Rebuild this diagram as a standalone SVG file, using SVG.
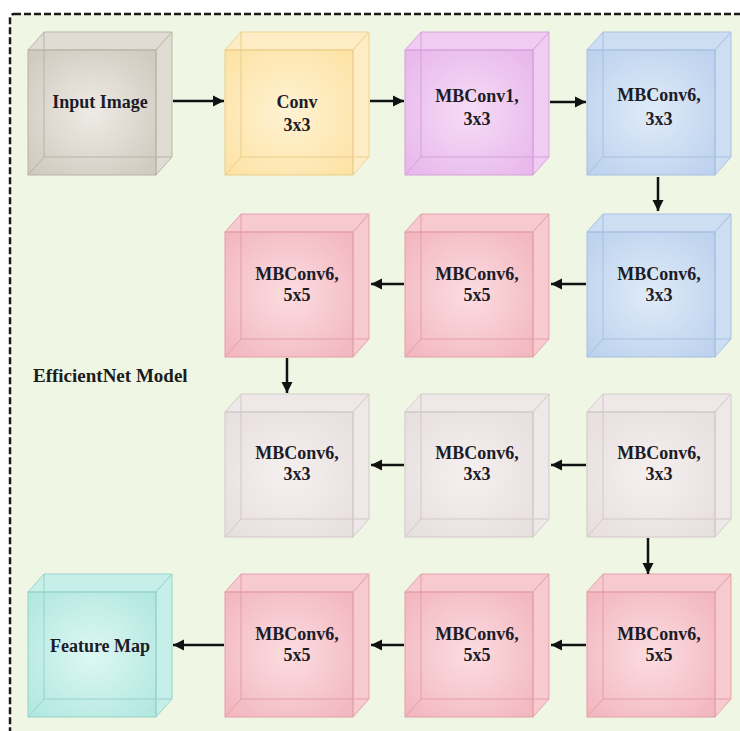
<svg xmlns="http://www.w3.org/2000/svg" width="740" height="731" viewBox="0 0 740 731">
<defs>
<radialGradient id="gGray" cx="0.5" cy="0.5" r="0.65"><stop offset="0" stop-color="#eeebe5"/><stop offset="1" stop-color="#d0cabf"/></radialGradient>
<radialGradient id="gYellow" cx="0.5" cy="0.5" r="0.65"><stop offset="0" stop-color="#fff2d3"/><stop offset="1" stop-color="#fde3a6"/></radialGradient>
<radialGradient id="gViolet" cx="0.5" cy="0.5" r="0.65"><stop offset="0" stop-color="#f6dcf6"/><stop offset="1" stop-color="#e8b8ec"/></radialGradient>
<radialGradient id="gBlue" cx="0.5" cy="0.5" r="0.65"><stop offset="0" stop-color="#dfebf8"/><stop offset="1" stop-color="#bdd2ee"/></radialGradient>
<radialGradient id="gPink" cx="0.5" cy="0.5" r="0.65"><stop offset="0" stop-color="#fbdde1"/><stop offset="1" stop-color="#f3b7c0"/></radialGradient>
<radialGradient id="gPale" cx="0.5" cy="0.5" r="0.65"><stop offset="0" stop-color="#f5f0f0"/><stop offset="1" stop-color="#e8dfdf"/></radialGradient>
<radialGradient id="gCyan" cx="0.5" cy="0.5" r="0.65"><stop offset="0" stop-color="#ddf7f3"/><stop offset="1" stop-color="#b2e8e0"/></radialGradient>
<marker id="arr" markerUnits="userSpaceOnUse" markerWidth="12" markerHeight="12" refX="11" refY="6" orient="auto"><path d="M0,0.5 L11,6 L0,11.5 z" fill="#111"/></marker>
</defs>
<style>
.bg{fill:#eff6e3;stroke:#1a1a1a;stroke-width:2.5;stroke-dasharray:7 3}
.side{stroke-width:1}
.edge{fill:none;stroke-width:1}
.gray .front{fill:url(#gGray)} .gray .side{fill:#e0dbd3;stroke:#bdb6aa} .gray .edge{stroke:#b9b1a5}
.yellow .front{fill:url(#gYellow)} .yellow .side{fill:#feedc4;stroke:#efd391} .yellow .edge{stroke:#ebcd8a}
.violet .front{fill:url(#gViolet)} .violet .side{fill:#f0cbf2;stroke:#d9a4dd} .violet .edge{stroke:#d5a0da}
.blue .front{fill:url(#gBlue)} .blue .side{fill:#cddef3;stroke:#a9c1e2} .blue .edge{stroke:#a6bfe1}
.pink .front{fill:url(#gPink)} .pink .side{fill:#f7cad0;stroke:#e6a2ad} .pink .edge{stroke:#e39ea9}
.pale .front{fill:url(#gPale)} .pale .side{fill:#efe8e8;stroke:#d5caca} .pale .edge{stroke:#d2c7c7}
.cyan .front{fill:url(#gCyan)} .cyan .side{fill:#c7efe9;stroke:#98d5cc} .cyan .edge{stroke:#95d2c9}
.lbl{font-family:"Liberation Serif","Times New Roman",serif;font-weight:bold;font-size:18px;fill:#1c1c28;text-anchor:middle}
.title{font-family:"Liberation Serif","Times New Roman",serif;font-weight:bold;font-size:19px;fill:#1c1c1c}
.conn line{stroke:#111;stroke-width:2.5;marker-end:url(#arr)}
</style>
<rect class="bg" x="10" y="14" width="745" height="730" rx="4"/>
<text class="title" x="33" y="382">EfficientNet Model</text>

<g id="input-image" class="gray" transform="translate(28,50)">
<rect class="front" x="0" y="0" width="128" height="125"/>
<polygon class="side" points="0,0 16,-18 144,-18 128,0"/><polygon class="side" points="128,0 144,-18 144,107 128,125"/>
<polyline class="edge" points="16,-18 16,107 144,107"/><line class="edge" x1="0" y1="125" x2="16" y2="107"/>
<rect class="edge" x="0" y="0" width="128" height="125"/>
<text class="lbl" x="72" y="58">Input Image</text></g>

<g id="conv3x3" class="yellow" transform="translate(225,50)">
<rect class="front" x="0" y="0" width="128" height="125"/>
<polygon class="side" points="0,0 16,-18 144,-18 128,0"/><polygon class="side" points="128,0 144,-18 144,107 128,125"/>
<polyline class="edge" points="16,-18 16,107 144,107"/><line class="edge" x1="0" y1="125" x2="16" y2="107"/>
<rect class="edge" x="0" y="0" width="128" height="125"/>
<text class="lbl" x="72" y="58">Conv</text><text class="lbl" x="72" y="81">3x3</text></g>

<g id="mbconv1-3x3" class="violet" transform="translate(405,50)">
<rect class="front" x="0" y="0" width="128" height="125"/>
<polygon class="side" points="0,0 16,-18 144,-18 128,0"/><polygon class="side" points="128,0 144,-18 144,107 128,125"/>
<polyline class="edge" points="16,-18 16,107 144,107"/><line class="edge" x1="0" y1="125" x2="16" y2="107"/>
<rect class="edge" x="0" y="0" width="128" height="125"/>
<text class="lbl" x="72" y="52">MBConv1,</text><text class="lbl" x="72" y="75">3x3</text></g>

<g id="mbconv6-3x3-a" class="blue" transform="translate(587,50)">
<rect class="front" x="0" y="0" width="128" height="125"/>
<polygon class="side" points="0,0 16,-18 144,-18 128,0"/><polygon class="side" points="128,0 144,-18 144,107 128,125"/>
<polyline class="edge" points="16,-18 16,107 144,107"/><line class="edge" x1="0" y1="125" x2="16" y2="107"/>
<rect class="edge" x="0" y="0" width="128" height="125"/>
<text class="lbl" x="72" y="51">MBConv6,</text><text class="lbl" x="72" y="75">3x3</text></g>

<g id="mbconv6-3x3-b" class="blue" transform="translate(587,232)">
<rect class="front" x="0" y="0" width="128" height="125"/>
<polygon class="side" points="0,0 16,-18 144,-18 128,0"/><polygon class="side" points="128,0 144,-18 144,107 128,125"/>
<polyline class="edge" points="16,-18 16,107 144,107"/><line class="edge" x1="0" y1="125" x2="16" y2="107"/>
<rect class="edge" x="0" y="0" width="128" height="125"/>
<text class="lbl" x="72" y="48">MBConv6,</text><text class="lbl" x="72" y="69">3x3</text></g>

<g id="mbconv6-5x5-a" class="pink" transform="translate(405,232)">
<rect class="front" x="0" y="0" width="128" height="125"/>
<polygon class="side" points="0,0 16,-18 144,-18 128,0"/><polygon class="side" points="128,0 144,-18 144,107 128,125"/>
<polyline class="edge" points="16,-18 16,107 144,107"/><line class="edge" x1="0" y1="125" x2="16" y2="107"/>
<rect class="edge" x="0" y="0" width="128" height="125"/>
<text class="lbl" x="72" y="48">MBConv6,</text><text class="lbl" x="72" y="69">5x5</text></g>

<g id="mbconv6-5x5-b" class="pink" transform="translate(225,232)">
<rect class="front" x="0" y="0" width="128" height="125"/>
<polygon class="side" points="0,0 16,-18 144,-18 128,0"/><polygon class="side" points="128,0 144,-18 144,107 128,125"/>
<polyline class="edge" points="16,-18 16,107 144,107"/><line class="edge" x1="0" y1="125" x2="16" y2="107"/>
<rect class="edge" x="0" y="0" width="128" height="125"/>
<text class="lbl" x="72" y="48">MBConv6,</text><text class="lbl" x="72" y="69">5x5</text></g>

<g id="mbconv6-3x3-c" class="pale" transform="translate(225,412)">
<rect class="front" x="0" y="0" width="128" height="125"/>
<polygon class="side" points="0,0 16,-18 144,-18 128,0"/><polygon class="side" points="128,0 144,-18 144,107 128,125"/>
<polyline class="edge" points="16,-18 16,107 144,107"/><line class="edge" x1="0" y1="125" x2="16" y2="107"/>
<rect class="edge" x="0" y="0" width="128" height="125"/>
<text class="lbl" x="72" y="47">MBConv6,</text><text class="lbl" x="72" y="68">3x3</text></g>

<g id="mbconv6-3x3-d" class="pale" transform="translate(405,412)">
<rect class="front" x="0" y="0" width="128" height="125"/>
<polygon class="side" points="0,0 16,-18 144,-18 128,0"/><polygon class="side" points="128,0 144,-18 144,107 128,125"/>
<polyline class="edge" points="16,-18 16,107 144,107"/><line class="edge" x1="0" y1="125" x2="16" y2="107"/>
<rect class="edge" x="0" y="0" width="128" height="125"/>
<text class="lbl" x="72" y="47">MBConv6,</text><text class="lbl" x="72" y="68">3x3</text></g>

<g id="mbconv6-3x3-e" class="pale" transform="translate(587,412)">
<rect class="front" x="0" y="0" width="128" height="125"/>
<polygon class="side" points="0,0 16,-18 144,-18 128,0"/><polygon class="side" points="128,0 144,-18 144,107 128,125"/>
<polyline class="edge" points="16,-18 16,107 144,107"/><line class="edge" x1="0" y1="125" x2="16" y2="107"/>
<rect class="edge" x="0" y="0" width="128" height="125"/>
<text class="lbl" x="72" y="47">MBConv6,</text><text class="lbl" x="72" y="68">3x3</text></g>

<g id="mbconv6-5x5-c" class="pink" transform="translate(587,592)">
<rect class="front" x="0" y="0" width="128" height="125"/>
<polygon class="side" points="0,0 16,-18 144,-18 128,0"/><polygon class="side" points="128,0 144,-18 144,107 128,125"/>
<polyline class="edge" points="16,-18 16,107 144,107"/><line class="edge" x1="0" y1="125" x2="16" y2="107"/>
<rect class="edge" x="0" y="0" width="128" height="125"/>
<text class="lbl" x="72" y="48">MBConv6,</text><text class="lbl" x="72" y="69">5x5</text></g>

<g id="mbconv6-5x5-d" class="pink" transform="translate(405,592)">
<rect class="front" x="0" y="0" width="128" height="125"/>
<polygon class="side" points="0,0 16,-18 144,-18 128,0"/><polygon class="side" points="128,0 144,-18 144,107 128,125"/>
<polyline class="edge" points="16,-18 16,107 144,107"/><line class="edge" x1="0" y1="125" x2="16" y2="107"/>
<rect class="edge" x="0" y="0" width="128" height="125"/>
<text class="lbl" x="72" y="48">MBConv6,</text><text class="lbl" x="72" y="69">5x5</text></g>

<g id="mbconv6-5x5-e" class="pink" transform="translate(225,592)">
<rect class="front" x="0" y="0" width="128" height="125"/>
<polygon class="side" points="0,0 16,-18 144,-18 128,0"/><polygon class="side" points="128,0 144,-18 144,107 128,125"/>
<polyline class="edge" points="16,-18 16,107 144,107"/><line class="edge" x1="0" y1="125" x2="16" y2="107"/>
<rect class="edge" x="0" y="0" width="128" height="125"/>
<text class="lbl" x="72" y="48">MBConv6,</text><text class="lbl" x="72" y="69">5x5</text></g>

<g id="feature-map" class="cyan" transform="translate(28,592)">
<rect class="front" x="0" y="0" width="128" height="125"/>
<polygon class="side" points="0,0 16,-18 144,-18 128,0"/><polygon class="side" points="128,0 144,-18 144,107 128,125"/>
<polyline class="edge" points="16,-18 16,107 144,107"/><line class="edge" x1="0" y1="125" x2="16" y2="107"/>
<rect class="edge" x="0" y="0" width="128" height="125"/>
<text class="lbl" x="72" y="60">Feature Map</text></g>

<g id="connectors" class="conn">
<line x1="173" y1="101" x2="224" y2="101"/>
<line x1="370" y1="101" x2="404" y2="101"/>
<line x1="550" y1="102" x2="586" y2="102"/>
<line x1="658" y1="177" x2="658" y2="211"/>
<line x1="586" y1="284" x2="551" y2="284"/>
<line x1="404" y1="284" x2="371" y2="284"/>
<line x1="287" y1="358" x2="287" y2="393"/>
<line x1="586" y1="465" x2="551" y2="465"/>
<line x1="404" y1="465" x2="371" y2="465"/>
<line x1="648" y1="538" x2="648" y2="574"/>
<line x1="586" y1="645" x2="551" y2="645"/>
<line x1="404" y1="645" x2="371" y2="645"/>
<line x1="224" y1="645" x2="173" y2="645"/>
</g>
</svg>
